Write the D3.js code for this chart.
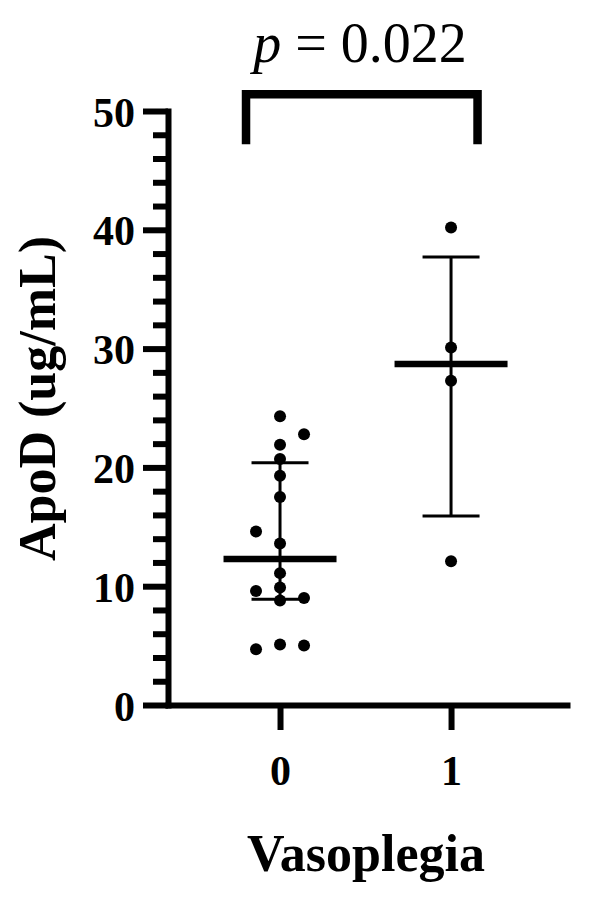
<!DOCTYPE html>
<html>
<head>
<meta charset="utf-8">
<script src="https://cdn.jsdelivr.net/npm/d3@7"></script>
<style>
  html, body { margin: 0; padding: 0; background: #fff; }
  svg { display: block; }
</style>
</head>
<body>
<svg id="chart" width="591" height="916"></svg>
<script>
// ---- data ----
const categories = ["0", "1"];
const group0Values = [24.3, 22.8, 21.9, 20.7, 19.3, 17.5, 14.6, 13.6, 11.1, 9.9, 9.6, 9.0, 8.8, 4.7, 5.1, 5.0];
const group0Column = [0, 1, 0, 0, 0, 0, -1, 0, 0, 0, -1, 1, 0, -1, 0, 1];
const group1Values = [40.2, 30.1, 27.3, 12.1];
const group1Column = [0, 0, 0, 0];
const medians = [12.3, 28.7];
const q1 = [8.9, 15.9];
const q3 = [20.4, 37.7];
const yTicks = [0, 10, 20, 30, 40, 50];
const pLabel = "0.022";
const yTitle = "ApoD (ug/mL)";
const xTitle = "Vasoplegia";

// ---- layout ----
const svg = d3.select("#chart");
const serif = "'Liberation Serif', 'Times New Roman', serif";

const x = d3.scaleLinear().domain([-0.655, 1.678]).range([168, 567]);
const y = d3.scaleLinear().domain([0, 50]).range([705, 111]);
const jitter = d3.scaleLinear().domain([-1, 1]).range([-24, 24]);

const points = [];
group0Values.forEach((v, i) => points.push({ g: 0, v, c: group0Column[i] }));
group1Values.forEach((v, i) => points.push({ g: 1, v, c: group1Column[i] }));

// minor y ticks
svg.append("g")
  .attr("transform", `translate(${x(-0.655)},0)`)
  .call(d3.axisLeft(y).tickValues(d3.range(0, 51, 2).filter(d => d % 10 !== 0)).tickSize(15).tickFormat(""))
  .call(g => g.select(".domain").remove())
  .call(g => g.selectAll("line").attr("stroke", "#000").attr("stroke-width", 6));

// major y axis
const yAxis = svg.append("g")
  .attr("transform", `translate(${x(-0.655)},0)`)
  .call(d3.axisLeft(y).tickValues(yTicks).tickSize(25).tickSizeOuter(0).tickPadding(8).tickFormat(d3.format("d")));
yAxis.select(".domain").attr("stroke", "#000").attr("stroke-width", 6).attr("stroke-linecap", "square");
yAxis.selectAll(".tick line").attr("stroke", "#000").attr("stroke-width", 6);
yAxis.selectAll(".tick text")
  .attr("font-family", serif).attr("font-weight", "bold").attr("font-size", 42).attr("fill", "#000")
  .attr("dy", "0.36em");

// x axis
const xAxis = svg.append("g")
  .attr("transform", `translate(0,${y(0)})`)
  .call(d3.axisBottom(x).tickValues([0, 1]).tickSize(25).tickSizeOuter(0).tickPadding(25).tickFormat(d => categories[d]));
xAxis.select(".domain").attr("stroke", "#000").attr("stroke-width", 6).attr("stroke-linecap", "square");
xAxis.selectAll(".tick line").attr("stroke", "#000").attr("stroke-width", 6);
xAxis.selectAll(".tick text")
  .attr("font-family", serif).attr("font-weight", "bold").attr("font-size", 42).attr("fill", "#000");

// points
svg.append("g").selectAll("circle").data(points).join("circle")
  .attr("cx", d => x(d.g) + jitter(d.c))
  .attr("cy", d => y(d.v))
  .attr("r", 6)
  .attr("fill", "#000");

// whiskers (IQR)
const summ = categories.map((c, i) => ({ i, med: medians[i], lo: q1[i], hi: q3[i] }));
const eb = svg.append("g").attr("stroke", "#000");
eb.selectAll(".wh").data(summ).join("line")
  .attr("x1", d => x(d.i)).attr("x2", d => x(d.i))
  .attr("y1", d => y(d.lo)).attr("y2", d => y(d.hi))
  .attr("stroke-width", 3);
eb.selectAll(".caphi").data(summ).join("line")
  .attr("x1", d => x(d.i) - 28.5).attr("x2", d => x(d.i) + 28.5)
  .attr("y1", d => y(d.hi)).attr("y2", d => y(d.hi))
  .attr("stroke-width", 3);
eb.selectAll(".caplo").data(summ).join("line")
  .attr("x1", d => x(d.i) - 28.5).attr("x2", d => x(d.i) + 28.5)
  .attr("y1", d => y(d.lo)).attr("y2", d => y(d.lo))
  .attr("stroke-width", 3);
eb.selectAll(".med").data(summ).join("line")
  .attr("x1", d => x(d.i) - 56.5).attr("x2", d => x(d.i) + 56.5)
  .attr("y1", d => y(d.med)).attr("y2", d => y(d.med))
  .attr("stroke-width", 6.5);

// significance bracket
const bTop = y(51.4), bBot = y(47.2);
svg.append("path")
  .attr("d", `M${x(0) - 34},${bBot}V${bTop}H${x(1) + 26.5}V${bBot}`)
  .attr("fill", "none").attr("stroke", "#000").attr("stroke-width", 8.5)
  .attr("stroke-linejoin", "miter").attr("stroke-linecap", "butt");

const pt = svg.append("text")
  .attr("x", 360).attr("y", 61.5)
  .attr("text-anchor", "middle")
  .attr("font-family", serif).attr("font-size", 56).attr("fill", "#000");
pt.append("tspan").attr("font-style", "italic").text("p");
pt.append("tspan").text(" = " + pLabel);

// axis titles
svg.append("text")
  .attr("transform", `translate(55,398.5) rotate(-90)`)
  .attr("text-anchor", "middle")
  .attr("font-family", serif).attr("font-weight", "bold").attr("font-size", 52).attr("fill", "#000")
  .text(yTitle);

svg.append("text")
  .attr("x", 366).attr("y", 871)
  .attr("text-anchor", "middle")
  .attr("font-family", serif).attr("font-weight", "bold").attr("font-size", 52).attr("fill", "#000")
  .text(xTitle);
</script>
</body>
</html>
